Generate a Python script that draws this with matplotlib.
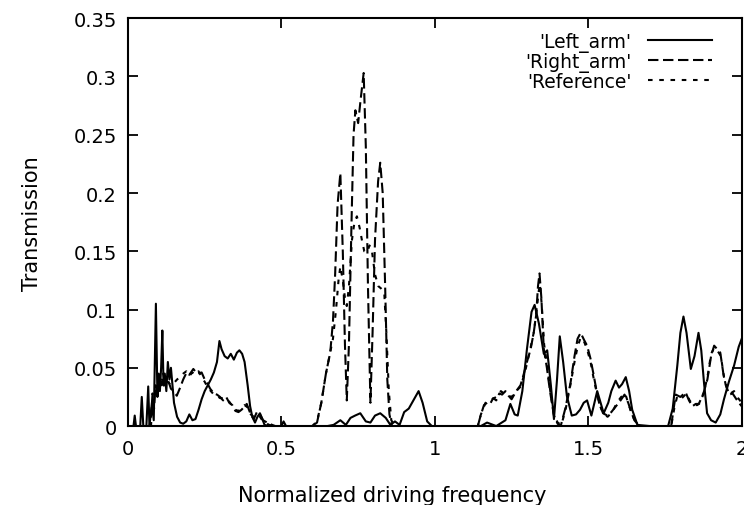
import matplotlib.pyplot as plt

# Left_arm (solid)
left_f = [0, 0.018, 0.022, 0.026, 0.04, 0.045, 0.05, 0.06, 0.066, 0.07, 0.078, 0.084,
          0.091, 0.096, 0.1, 0.104, 0.108, 0.112, 0.116, 0.12, 0.125, 0.13, 0.135, 0.14,
          0.145, 0.15, 0.16, 0.17, 0.18, 0.19, 0.2, 0.21, 0.22, 0.23, 0.24, 0.25, 0.26,
          0.27, 0.28, 0.29, 0.298, 0.305, 0.315, 0.325, 0.335, 0.345, 0.355, 0.363, 0.372,
          0.38, 0.39, 0.398, 0.405, 0.414, 0.422, 0.43, 0.438, 0.445, 0.46, 0.5, 0.507,
          0.515, 0.55, 0.6, 0.65, 0.67, 0.692, 0.71, 0.725, 0.74, 0.757, 0.775, 0.79,
          0.805, 0.822, 0.84, 0.855, 0.87, 0.885, 0.9, 0.915, 0.93, 0.947, 0.96, 0.975,
          0.99, 1.0, 1.1, 1.15, 1.17, 1.2, 1.23, 1.246, 1.26, 1.27, 1.285, 1.30, 1.315,
          1.325, 1.339, 1.355, 1.366, 1.378, 1.388, 1.398, 1.407, 1.418, 1.43, 1.446,
          1.46, 1.473, 1.485, 1.496, 1.51, 1.52, 1.529, 1.54, 1.55, 1.565, 1.575, 1.589,
          1.6, 1.61, 1.622, 1.633, 1.643, 1.66, 1.7, 1.76, 1.775, 1.79, 1.8, 1.81, 1.82,
          1.834, 1.846, 1.859, 1.868, 1.877, 1.887, 1.9, 1.915, 1.93, 1.942, 1.958, 1.975,
          1.99, 2.0]
left_v = [0, 0, 0.009, 0, 0, 0.025, 0, 0, 0.034, 0, 0.02, 0.005,
          0.105, 0.025, 0.045, 0.03, 0.05, 0.082, 0.035, 0.045, 0.03, 0.055, 0.04, 0.05,
          0.035, 0.02, 0.008, 0.003, 0.002, 0.004, 0.01, 0.005, 0.006, 0.014, 0.023, 0.03, 0.035,
          0.04, 0.046, 0.055, 0.073, 0.066, 0.06, 0.058, 0.062, 0.057, 0.063, 0.065, 0.062,
          0.055, 0.035, 0.017, 0.008, 0.003, 0.008, 0.011, 0.006, 0.001, 0, 0, 0.004,
          0, 0, 0, 0, 0.001, 0.005, 0.001, 0.007, 0.009, 0.011, 0.004, 0.003,
          0.009, 0.011, 0.007, 0.001, 0.004, 0.001, 0.012, 0.015, 0.022, 0.03, 0.02, 0.004,
          0, 0, 0, 0, 0.003, 0, 0.005, 0.019, 0.01, 0.009, 0.03, 0.066, 0.098,
          0.104, 0.088, 0.062, 0.065, 0.035, 0.006, 0.04, 0.077, 0.055, 0.026, 0.009,
          0.01, 0.014, 0.02, 0.022, 0.009, 0.02, 0.03, 0.02, 0.011, 0.02, 0.03, 0.039,
          0.033, 0.036, 0.042, 0.03, 0.014, 0.001, 0, 0, 0.015, 0.052, 0.08, 0.094, 0.08,
          0.049, 0.06, 0.08, 0.065, 0.037, 0.011, 0.005, 0.003, 0.01, 0.023, 0.038, 0.052,
          0.068, 0.075]

# Right_arm (dashed)
right_f = [0, 0.07, 0.076, 0.08, 0.085, 0.09, 0.095, 0.1, 0.104, 0.11, 0.115, 0.12, 0.13,
           0.14, 0.15, 0.159, 0.17, 0.18, 0.191, 0.2, 0.213, 0.225, 0.24, 0.25, 0.26, 0.268,
           0.28, 0.29, 0.30, 0.31, 0.32, 0.33, 0.34, 0.35, 0.36, 0.37, 0.387, 0.4, 0.41,
           0.42, 0.43, 0.44, 0.46, 0.48, 0.6, 0.616, 0.63, 0.645, 0.659, 0.668, 0.675,
           0.683, 0.692, 0.7, 0.707, 0.713, 0.72, 0.728, 0.735, 0.741, 0.75, 0.758, 0.768,
           0.775, 0.782, 0.79, 0.797, 0.805, 0.815, 0.822, 0.83, 0.838, 0.845, 0.852, 0.86,
           1.14, 1.148, 1.16, 1.17, 1.18, 1.19, 1.2, 1.21, 1.219, 1.23, 1.24, 1.25, 1.265,
           1.279, 1.29, 1.3, 1.312, 1.322, 1.33, 1.336, 1.341, 1.347, 1.355, 1.365, 1.375,
           1.388, 1.4, 1.41, 1.425, 1.442, 1.455, 1.465, 1.475, 1.486, 1.496, 1.507, 1.518,
           1.527, 1.535, 1.548, 1.562, 1.575, 1.59, 1.605, 1.618, 1.63, 1.64, 1.65, 1.66,
           1.67, 1.77, 1.778, 1.785, 1.8, 1.817, 1.828, 1.839, 1.85, 1.86, 1.875, 1.888,
           1.9, 1.91, 1.92, 1.93, 1.94, 1.948, 1.96, 1.97, 1.98, 1.99, 2.0]
right_v = [0, 0, 0.01, 0.028, 0.015, 0.035, 0.03, 0.04, 0.043, 0.035, 0.045, 0.038, 0.04,
           0.032, 0.03, 0.026, 0.033, 0.04, 0.046, 0.044, 0.049, 0.045, 0.046, 0.04, 0.036, 0.032,
           0.028, 0.027, 0.025, 0.022, 0.025, 0.02, 0.018, 0.013, 0.012, 0.014, 0.019, 0.01, 0.006,
           0.012, 0.01, 0.005, 0.002, 0, 0, 0.003, 0.02, 0.045, 0.063, 0.09, 0.13,
           0.19, 0.217, 0.15, 0.07, 0.022, 0.07, 0.17, 0.25, 0.271, 0.26, 0.28, 0.303,
           0.24, 0.12, 0.02, 0.08, 0.16, 0.21, 0.226, 0.2, 0.12, 0.04, 0.01, 0,
           0, 0.008, 0.018, 0.02, 0.019, 0.024, 0.022, 0.028, 0.027, 0.03, 0.026, 0.023, 0.03,
           0.035, 0.045, 0.055, 0.066, 0.08, 0.095, 0.12, 0.131, 0.11, 0.066, 0.05, 0.03,
           0.009, 0.002, 0, 0.015, 0.037, 0.06, 0.075, 0.08, 0.074, 0.069, 0.058, 0.043,
           0.03, 0.02, 0.011, 0.009, 0.012, 0.017, 0.022, 0.027, 0.02, 0.012, 0.005, 0.002,
           0, 0, 0.015, 0.027, 0.025, 0.029, 0.022, 0.017, 0.019, 0.019, 0.028, 0.04,
           0.06, 0.069, 0.066, 0.063, 0.045, 0.035, 0.027, 0.028, 0.024, 0.02, 0.017]

# Reference (dotted)
ref_f = [0, 0.075, 0.08, 0.09, 0.1, 0.11, 0.12, 0.13, 0.14, 0.15, 0.16, 0.17, 0.18, 0.19,
         0.2, 0.21, 0.22, 0.23, 0.24, 0.25, 0.26, 0.27, 0.28, 0.29, 0.3, 0.31, 0.32, 0.33,
         0.34, 0.35, 0.36, 0.37, 0.38, 0.39, 0.4, 0.41, 0.42, 0.43, 0.44, 0.46, 0.48,
         0.6, 0.616, 0.63, 0.645, 0.659, 0.668, 0.678, 0.686, 0.692, 0.7, 0.707, 0.713,
         0.72, 0.73, 0.738, 0.746, 0.755, 0.762, 0.77, 0.779, 0.787, 0.795, 0.805, 0.816,
         0.825, 0.835, 0.842, 0.85, 0.858, 0.87,
         1.14, 1.15, 1.165, 1.18, 1.2, 1.215, 1.23, 1.25, 1.265, 1.28, 1.295, 1.31, 1.322,
         1.332, 1.338, 1.342, 1.348, 1.356, 1.366, 1.376, 1.388, 1.4, 1.412, 1.425, 1.44,
         1.455, 1.465, 1.475, 1.487, 1.497, 1.508, 1.518, 1.528, 1.537, 1.55, 1.563, 1.578,
         1.593, 1.607, 1.62, 1.632, 1.645, 1.66, 1.67, 1.77, 1.78, 1.79, 1.805, 1.82, 1.83,
         1.842, 1.855, 1.865, 1.878, 1.89, 1.9, 1.91, 1.92, 1.932, 1.942, 1.952, 1.963,
         1.975, 1.988, 2.0]
ref_v = [0, 0, 0.02, 0.03, 0.035, 0.042, 0.033, 0.038, 0.035, 0.037, 0.04, 0.042, 0.045, 0.047,
         0.043, 0.046, 0.044, 0.047, 0.042, 0.038, 0.033, 0.03, 0.027, 0.026, 0.024, 0.024, 0.022, 0.021,
         0.017, 0.014, 0.013, 0.015, 0.018, 0.016, 0.01, 0.008, 0.01, 0.008, 0.004, 0.001, 0,
         0, 0.004, 0.02, 0.045, 0.063, 0.075, 0.1, 0.125, 0.137, 0.125, 0.11, 0.103,
         0.12, 0.16, 0.175, 0.18, 0.17, 0.16, 0.15, 0.149, 0.155, 0.15, 0.13, 0.12,
         0.118, 0.115, 0.08, 0.03, 0.005, 0,
         0, 0.01, 0.02, 0.022, 0.025, 0.03, 0.027, 0.025, 0.03, 0.034, 0.048, 0.065, 0.08,
         0.1, 0.115, 0.122, 0.105, 0.07, 0.052, 0.03, 0.01, 0.003, 0.001, 0.013, 0.033,
         0.055, 0.068, 0.076, 0.072, 0.065, 0.054, 0.04, 0.028, 0.018, 0.01, 0.008, 0.012,
         0.02, 0.025, 0.028, 0.018, 0.008, 0.002, 0, 0, 0.015, 0.026, 0.024, 0.028, 0.022,
         0.018, 0.018, 0.02, 0.03, 0.045, 0.062, 0.067, 0.065, 0.06, 0.042, 0.032, 0.028,
         0.03, 0.024, 0.02]

xticks = [0, 0.5, 1, 1.5, 2]
xticklabels = ['0', '0.5', '1', '1.5', '2']
yticks = [0, 0.05, 0.1, 0.15, 0.2, 0.25, 0.3, 0.35]
yticklabels = ['0', '0.05', '0.1', '0.15', '0.2', '0.25', '0.3', '0.35']

plt.rcParams['font.family'] = ['DejaVu Sans']

fig = plt.figure(figsize=(7.44, 5.06), dpi=100)
ax = fig.add_axes([0.172, 0.156, 0.825, 0.806])

ax.plot(left_f, left_v, color='black', lw=1.5, label="'Left_arm'")
ax.plot(right_f, right_v, color='black', lw=1.5, linestyle=(0, (5, 2.2)), label="'Right_arm'")
ax.plot(ref_f, ref_v, color='black', lw=1.5, linestyle=(0, (2.2, 3.2)), label="'Reference'")

ax.set_xlim(0, 2)
ax.set_ylim(0, 0.35)
ax.set_xticks(xticks)
ax.set_xticklabels(xticklabels)
ax.set_yticks(yticks)
ax.set_yticklabels(yticklabels)
ax.tick_params(direction='in', length=7, width=1.3, top=True, right=True, labelsize=14)
ax.tick_params(axis='y', pad=8)
ax.tick_params(axis='x', pad=9)
for s in ax.spines.values():
    s.set_linewidth(1.5)

ax.set_xlabel('Normalized driving frequency', fontsize=15)
ax.set_ylabel('Transmission', fontsize=15)
ax.xaxis.set_label_coords(0.43, -0.145)
ax.yaxis.set_label_coords(-0.14, 0.5)

ax.legend(loc='upper right', frameon=False, markerfirst=False, fontsize=13.5,
          handlelength=3.4, handletextpad=0.9, labelspacing=0.0,
          bbox_to_anchor=(0.97, 0.995), borderaxespad=0.2)

plt.savefig('out.png', dpi=100)
